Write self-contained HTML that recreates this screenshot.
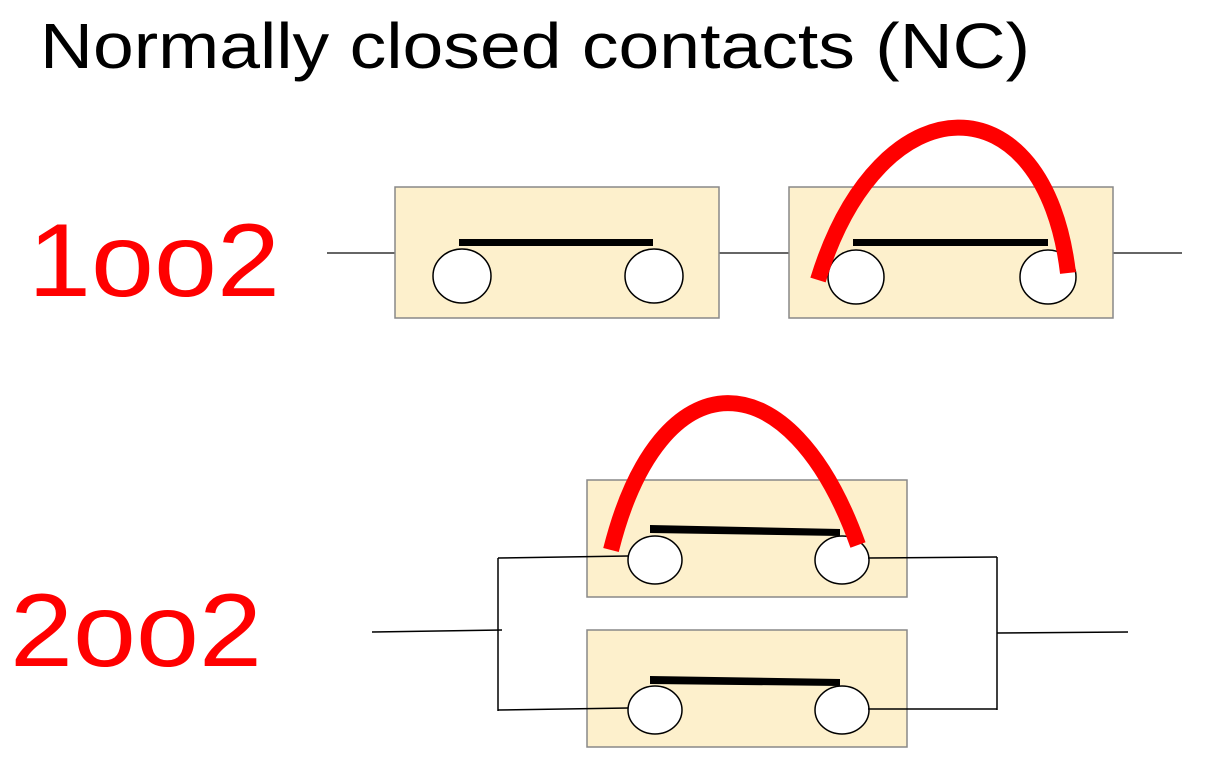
<!DOCTYPE html>
<html><head><meta charset="utf-8"><style>
html,body{margin:0;padding:0;background:#fff;width:1213px;height:768px;overflow:hidden}
svg{position:absolute;left:0;top:0}
</style></head><body>
<svg width="1213" height="768" viewBox="0 0 1213 768" xmlns="http://www.w3.org/2000/svg">
<text x="40" y="68" font-family="Liberation Sans, sans-serif" font-size="64" fill="#000" textLength="990" lengthAdjust="spacingAndGlyphs">Normally closed contacts (NC)</text>
<text x="28" y="296" font-family="Liberation Sans, sans-serif" font-size="104" fill="#f00" textLength="252" lengthAdjust="spacingAndGlyphs">1oo2</text>
<text x="10" y="666" font-family="Liberation Sans, sans-serif" font-size="104" fill="#f00" textLength="252" lengthAdjust="spacingAndGlyphs">2oo2</text>
<g stroke="#333" stroke-width="1.5" fill="none">
<line x1="327" y1="253" x2="395" y2="253"/>
<line x1="719" y1="253" x2="789" y2="253"/>
<line x1="1113" y1="253" x2="1182" y2="253"/>
</g>
<g fill="#fdf0cc" stroke="#888" stroke-width="1.5">
<rect x="395" y="187" width="324" height="131"/>
<rect x="789" y="187" width="324" height="131"/>
<rect x="587" y="480" width="320" height="117"/>
<rect x="587" y="630" width="320" height="117"/>
</g>
<g fill="#000">
<rect x="459" y="239" width="194" height="7"/>
<rect x="853" y="239" width="195" height="7"/>
<polygon points="650,525 840,529 840,536 650,533"/>
<polygon points="650,676 840,679 840,686 650,684"/>
</g>
<g fill="#fff" stroke="#000" stroke-width="1.5">
<ellipse cx="462" cy="276" rx="29" ry="27"/>
<ellipse cx="654" cy="276" rx="29" ry="27"/>
<ellipse cx="856" cy="277" rx="28" ry="27"/>
<ellipse cx="1048" cy="277" rx="28" ry="27"/>
<ellipse cx="655" cy="560" rx="27" ry="24"/>
<ellipse cx="842" cy="560" rx="27" ry="24"/>
<ellipse cx="655" cy="710" rx="27" ry="24"/>
<ellipse cx="842" cy="710" rx="27" ry="24"/>
</g>
<g stroke="#000" stroke-width="1.5" fill="none">
<line x1="372" y1="632" x2="502" y2="630"/>
<line x1="498" y1="558" x2="498" y2="711"/>
<line x1="498" y1="558" x2="628" y2="556"/>
<line x1="498" y1="710" x2="628" y2="708"/>
<line x1="997" y1="557" x2="997" y2="710"/>
<line x1="868" y1="558" x2="997" y2="557"/>
<line x1="868" y1="709" x2="997" y2="709"/>
<line x1="997" y1="633" x2="1128" y2="632"/>
</g>
<g stroke="#f00" stroke-width="16" fill="none">
<path d="M818,280 C880,78 1045,78 1068,273"/>
<path d="M611,550 C660,355 790,355 858,545"/>
</g>
</svg>
</body></html>
